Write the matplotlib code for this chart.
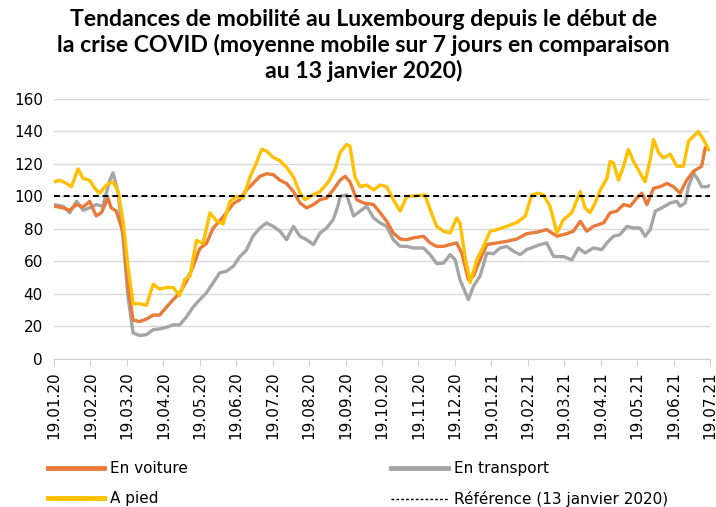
import matplotlib
matplotlib.use("Agg")
import matplotlib.pyplot as plt
from matplotlib.lines import Line2D

# x positions are months elapsed since 19.01.20
month_labels = ["19.01.20", "19.02.20", "19.03.20", "19.04.20", "19.05.20",
                "19.06.20", "19.07.20", "19.08.20", "19.09.20", "19.10.20",
                "19.11.20", "19.12.20", "19.01.21", "19.02.21", "19.03.21",
                "19.04.21", "19.05.21", "19.06.21", "19.07.21"]

pied_t = [0, .16, .34, .48, .66, .80, .98, 1.12, 1.25, 1.44, 1.62, 1.76, 1.90,
          2.03, 2.17, 2.35, 2.54, 2.72, 2.90, 3.09, 3.27, 3.45, 3.59, 3.73, 3.91,
          4.09, 4.28, 4.46, 4.64, 4.83, 5.01, 5.19, 5.38, 5.56, 5.70, 5.83, 6.02,
          6.20, 6.38, 6.57, 6.75, 6.89, 7.07, 7.30, 7.53, 7.71,
          7.85, 8.03, 8.12, 8.26, 8.40, 8.58, 8.77, 8.95, 9.13, 9.31, 9.50, 9.68,
          9.95, 10.18, 10.32, 10.50, 10.69, 10.87, 11.05, 11.14, 11.28, 11.42,
          11.60, 11.78, 11.97, 12.15, 12.42, 12.70, 12.93, 13.11, 13.29, 13.43,
          13.61, 13.80, 13.98, 14.21, 14.44, 14.57, 14.71, 14.85, 14.99, 15.17,
          15.26, 15.35, 15.49, 15.63, 15.76, 15.90, 16.08, 16.22, 16.36, 16.45,
          16.59, 16.72, 16.91, 17.09, 17.27, 17.41, 17.68, 17.82, 17.96]
pied = [109, 110, 108, 106, 117, 111, 110, 105, 102, 107, 109, 103, 84,
        57, 34, 34, 33, 46, 43, 44, 44, 39, 49, 51, 73,
        71, 90, 85, 83, 97, 100, 99, 112, 121, 129, 128, 124,
        122, 118, 112, 102, 98, 100.5, 103, 109, 116.5,
        127, 132, 131, 112, 106, 107, 104, 107, 106, 98, 91, 100,
        100.5, 101, 92, 81.6, 78.6, 77.5, 86.8, 83.7, 63, 47,
        61, 69, 78.6, 79.6, 81.6, 84, 87.8, 101, 102, 101,
        94, 77.5, 85.7, 90, 103, 93, 90, 96, 104, 111,
        121.6, 120.6, 110, 118.6, 129, 121.6, 114.5, 109, 122.7, 135,
        127, 123.7, 126, 118.6, 118.6, 134, 140, 135, 129]

voiture_t = [0, .25, .43, .62, .80, .98, 1.16, 1.30, 1.48, 1.57, 1.71, 1.90,
             2.03, 2.17, 2.35, 2.54, 2.72, 2.90, 3.09, 3.27, 3.45, 3.64, 3.82,
             4.00, 4.18, 4.37, 4.55, 4.73, 4.92, 5.10, 5.28, 5.46, 5.65, 5.83,
             6.02, 6.20, 6.38, 6.57, 6.75, 6.93, 7.12, 7.30, 7.48, 7.66,
             7.85, 7.99, 8.12, 8.31, 8.49, 8.77, 8.95, 9.13, 9.31, 9.50, 9.68,
             9.86, 10.14, 10.32, 10.50, 10.69, 10.87, 11.05, 11.19, 11.37,
             11.51, 11.69, 11.88, 12.15, 12.42, 12.70, 12.97, 13.25, 13.52,
             13.80, 14.07, 14.25, 14.44, 14.62, 14.80, 15.08, 15.26, 15.44,
             15.63, 15.81, 15.99, 16.13, 16.27, 16.45, 16.63, 16.82, 17.00,
             17.18, 17.36, 17.55, 17.77, 17.87, 17.96]
voiture = [94, 93, 91.5, 95, 93.5, 97, 88, 90, 99, 93, 91, 77.5,
           45, 24, 23, 24.6, 27, 27, 32, 36.5, 40.6, 48, 57,
           68, 71, 80.6, 85, 90, 95.6, 98, 104, 108, 112.4, 114,
           113.4, 110, 108, 103, 96, 93, 95, 98, 99, 104,
           110, 112.4, 109, 98, 96, 95, 90, 84.7, 77.5, 73.8, 73.4,
           74.5, 75.5, 71.4, 69.3, 69.3, 70.4, 71.4, 65, 48.8,
           51, 61, 70.4, 71.4, 72.4, 73.8, 77.1, 78, 79.6,
           75.5, 77.1, 78.6, 84.7, 78.6, 81.6, 83.7, 90, 91,
           95, 94, 99, 102, 95, 105, 106, 108, 106,
           102, 110, 115.5, 118.6, 130, 129]

transport_t = [0, .25, .43, .62, .80, .98, 1.16, 1.34, 1.53, 1.62, 1.76, 1.90,
               2.03, 2.17, 2.35, 2.54, 2.72, 2.90, 3.09, 3.27, 3.45, 3.64, 3.82,
               4.00, 4.18, 4.37, 4.55, 4.73, 4.92, 5.10, 5.28, 5.46, 5.65, 5.83,
               6.02, 6.20, 6.38, 6.57, 6.75, 6.93, 7.12, 7.30, 7.48, 7.66, 7.79,
               7.85, 8.03, 8.22, 8.40, 8.58, 8.77, 8.95, 9.13, 9.31, 9.50, 9.68,
               9.86, 10.14, 10.32, 10.50, 10.69, 10.87, 11.01, 11.14, 11.37,
               11.51, 11.69, 11.88, 12.06, 12.24, 12.42, 12.61, 12.79, 12.97,
               13.34, 13.52, 13.71, 13.98, 14.21, 14.39, 14.57, 14.80, 15.03,
               15.17, 15.35, 15.53, 15.72, 15.90, 16.08, 16.22, 16.36, 16.50,
               16.68, 16.91, 17.09, 17.18, 17.32, 17.41, 17.55, 17.68, 17.77,
               17.92, 18.01]
transport = [95, 94, 90, 97, 91.5, 93, 95, 94, 110, 114.5, 102, 73,
             38.6, 16, 14.4, 15, 18, 18.5, 19.5, 21, 21, 26, 32,
             36.5, 40.6, 47, 53, 54, 57, 63, 67, 75.5, 80.6, 83.7,
             81.6, 78.6, 73.4, 81.6, 75.5, 73.4, 70.4, 77.5, 80.6, 85.7, 94,
             100, 101, 88, 91, 94, 86.8, 83.7, 81.6, 73.4, 69.3, 69.3,
             68.3, 68.3, 64.2, 58.7, 59, 64.2, 61, 48.8, 36.5,
             44.7, 51, 65.2, 64.8, 68.3, 69.3, 66.3, 64.2, 67.3,
             70.4, 71.4, 63, 63, 61, 68.3, 65.2, 68.3, 67.3,
             71.4, 75.5, 76.5, 81.6, 80.6, 80.6, 75.5, 79.6, 91,
             93, 96, 97, 94, 96, 106, 114.5, 110, 106,
             106, 107]

reference = 100

title = ("Tendances de mobilité au Luxembourg depuis le début de\n"
         "la crise COVID (moyenne mobile sur 7 jours en comparaison\n"
         "au 13 janvier 2020)")

C_VOITURE = "#E97B3A"
C_TRANSPORT = "#A5A5A5"
C_PIED = "#FFC000"

fig = plt.figure(figsize=(7.16, 5.07), dpi=100)
ax = fig.add_axes([0.0754, 0.292, 0.9162, 0.5128])

ax.plot(transport_t, transport, color=C_TRANSPORT, lw=2.4, zorder=3)
ax.plot(voiture_t, voiture, color=C_VOITURE, lw=2.4, zorder=4)
ax.plot(pied_t, pied, color=C_PIED, lw=2.4, zorder=5)
ax.axhline(reference, color="black", lw=1.4, ls=(0, (3, 2)), zorder=6)

ax.set_xlim(0, 18)
ax.set_ylim(0, 160)
ax.set_yticks(range(0, 161, 20))
ax.set_xticks(range(len(month_labels)))
ax.set_xticklabels(month_labels, rotation=90, fontsize=11)
ax.tick_params(axis="y", length=0, labelsize=11, pad=8)
ax.tick_params(axis="x", length=5, color="#D0D0D0", pad=4)
ax.grid(axis="y", color="#D9D9D9", lw=1)
for side in ("left", "right", "top"):
    ax.spines[side].set_visible(False)
ax.spines["bottom"].set_color("#D0D0D0")

fig.text(0.508, 0.982, title, ha="center", va="top", fontsize=16.6,
         fontweight="bold", family=["Lato", "DejaVu Sans"], linespacing=1.2)

handles = [Line2D([], [], color=C_VOITURE, lw=3.5),
           Line2D([], [], color=C_PIED, lw=3.5),
           Line2D([], [], color=C_TRANSPORT, lw=3.5),
           Line2D([], [], color="black", lw=1, ls=(0, (2, 1.5)))]
labels = ["En voiture", "A pied", "En transport", "Référence (13 janvier 2020)"]
fig.legend(handles, labels, ncol=2, loc="center left",
           bbox_to_anchor=(0.056, 0.045), frameon=False, fontsize=11,
           borderpad=0, handlelength=3.7, handletextpad=0.4,
           columnspacing=13.3, labelspacing=0.95)

fig.savefig("out.png", dpi=100)
